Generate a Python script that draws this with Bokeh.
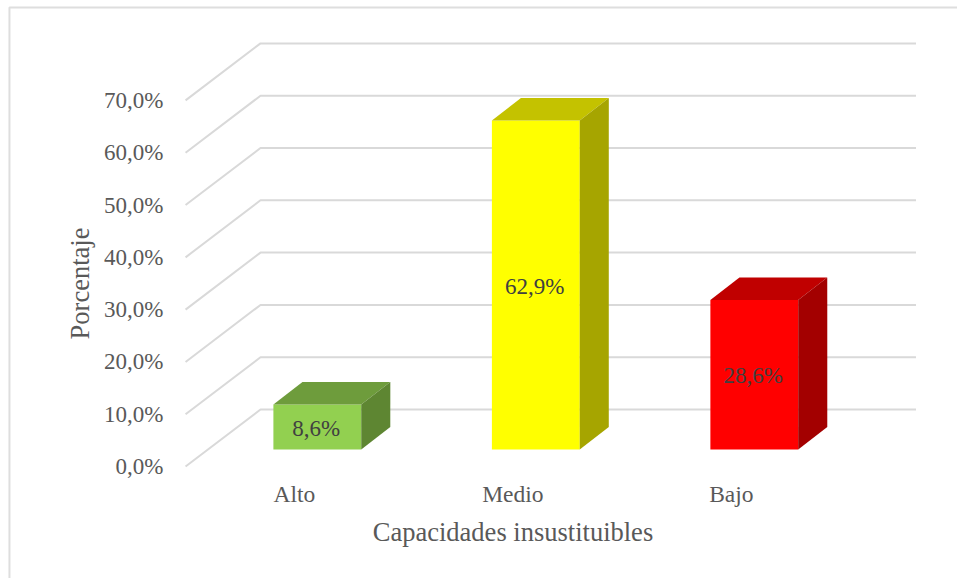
from bokeh.plotting import figure
from bokeh.models import Range1d, FixedTicker
from bokeh.embed import file_html
from bokeh.resources import INLINE
from bokeh.core.properties import value

categories = ["Alto", "Medio", "Bajo"]
percentages = [8.6, 62.9, 28.6]
front_colors = ["#92D050", "#FFFF00", "#FF0000"]
top_colors = ["#6E9C3C", "#C4C200", "#C00000"]
side_colors = ["#5E8632", "#A6A500", "#A30000"]
y_ticks = [0, 10, 20, 30, 40, 50, 60, 70]
x_title = "Capacidades insustituibles"
y_title = "Porcentaje"

SERIF = "Liberation Serif"
TEXT = "#595959"
GRID = "#D9D9D9"

# Oblique projection of the box: offsets of the floor, the bars and the bar depth
FLOOR_DX, FLOOR_DY = 0.343, 10.9
BAR_DX, BAR_DY = 0.105, 3.25
DEPTH_DX, DEPTH_DY = 0.133, 4.3
BAR_W = 0.402
WALL_LEFT, WALL_RIGHT = -0.498, 2.845

p = figure(width=957, height=578, output_backend="svg", toolbar_location=None,
           x_range=Range1d(-1.345, 3.035), y_range=Range1d(-21.4, 89.1),
           min_border=0, background_fill_color="white", border_fill_color="white",
           outline_line_color=None, tools="")
p.grid.visible = False

# Chart area border, running off the right and bottom of the page
p.line([-1.304, -1.304, 3.2], [-30, 87.75, 87.75], line_color="#DEDEDE", line_width=2)

# Gridlines: front edge running back to the wall, then along it
grid_xs, grid_ys = [], []
for t in y_ticks:
    grid_xs.append([WALL_LEFT, WALL_LEFT + FLOOR_DX, WALL_RIGHT])
    grid_ys.append([t, t + FLOOR_DY, t + FLOOR_DY])
p.multi_line(grid_xs, grid_ys, line_color=GRID, line_width=2)

# Three visible faces of each bar
for i, v in enumerate(percentages):
    x0 = i + BAR_DX - BAR_W / 2
    x1 = i + BAR_DX + BAR_W / 2
    y0 = BAR_DY
    y1 = BAR_DY + v
    p.patch([x0, x1, x1, x0], [y0, y0, y1, y1], fill_color=front_colors[i], line_color=None)
    p.patch([x0, x1, x1 + DEPTH_DX, x0 + DEPTH_DX], [y1, y1, y1 + DEPTH_DY, y1 + DEPTH_DY],
            fill_color=top_colors[i], line_color=None)
    p.patch([x1, x1 + DEPTH_DX, x1 + DEPTH_DX, x1], [y0, y0 + DEPTH_DY, y1 + DEPTH_DY, y1],
            fill_color=side_colors[i], line_color=None)

# Value labels centred on the front faces
p.text([i + BAR_DX - 0.005 for i in range(3)],
       [BAR_DY + v / 2 - 0.2 for v in percentages],
       text=[f"{v:.1f}".replace(".", ",") + "%" for v in percentages],
       text_font=value(SERIF), text_font_size="23px", text_color="#404040",
       text_align="center", text_baseline="middle")

yaxis = p.yaxis[0]
yaxis.fixed_location = -0.567
yaxis.bounds = (0, 70)
yaxis.ticker = FixedTicker(ticks=y_ticks)
yaxis.major_label_overrides = {t: f"{t:.1f}".replace(".", ",") + "%" for t in y_ticks}
yaxis.axis_line_color = None
yaxis.major_tick_line_color = None
yaxis.minor_tick_line_color = None
yaxis.major_tick_out = 0
yaxis.major_tick_in = 0
yaxis.major_label_standoff = 7
yaxis.major_label_text_font = SERIF
yaxis.major_label_text_font_size = "23px"
yaxis.major_label_text_color = TEXT
yaxis.axis_label = y_title
yaxis.axis_label_text_font = SERIF
yaxis.axis_label_text_font_style = "normal"
yaxis.axis_label_text_font_size = "26.5px"
yaxis.axis_label_text_color = TEXT
yaxis.axis_label_standoff = 6

xaxis = p.xaxis[0]
xaxis.fixed_location = -2.5
xaxis.bounds = (0, 2)
xaxis.ticker = FixedTicker(ticks=[0, 1, 2])
xaxis.major_label_overrides = {i: c for i, c in enumerate(categories)}
xaxis.axis_line_color = None
xaxis.major_tick_line_color = None
xaxis.minor_tick_line_color = None
xaxis.major_tick_out = 0
xaxis.major_tick_in = 0
xaxis.major_label_standoff = 1
xaxis.major_label_text_font = SERIF
xaxis.major_label_text_font_size = "23.5px"
xaxis.major_label_text_color = TEXT
xaxis.axis_label = x_title
xaxis.axis_label_text_font = SERIF
xaxis.axis_label_text_font_style = "normal"
xaxis.axis_label_text_font_size = "26.5px"
xaxis.axis_label_text_color = TEXT
xaxis.axis_label_standoff = 7

open("out.html", "w").write(file_html(p, INLINE))
